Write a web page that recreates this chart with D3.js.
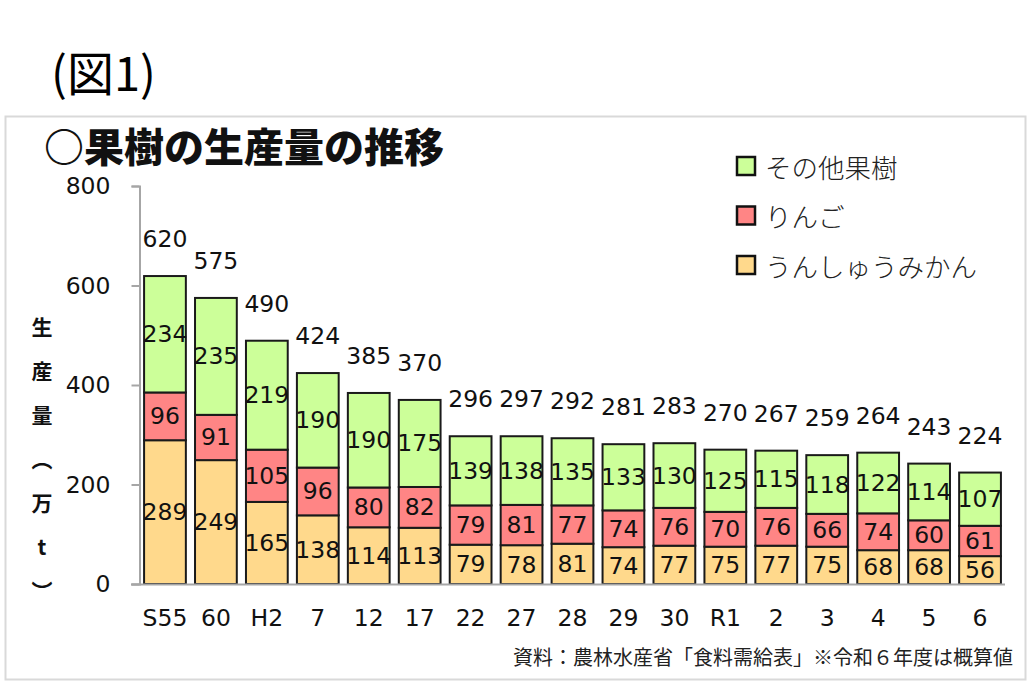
<!DOCTYPE html>
<html>
<head>
<meta charset="utf-8">
<script src="https://cdn.jsdelivr.net/npm/d3@7"></script>
<style>
  body { margin: 0; background: #fff; }
  svg { display: block; }
</style>
</head>
<body>
<div id="chart"></div>
<script>
const years = ["S55", "60", "H2", "7", "12", "17", "22", "27", "28", "29", "30", "R1", "2", "3", "4", "5", "6"];
const mikan = [289, 249, 165, 138, 114, 113, 79, 78, 81, 74, 77, 75, 77, 75, 68, 68, 56];
const apple = [96, 91, 105, 96, 80, 82, 79, 81, 77, 74, 76, 70, 76, 66, 74, 60, 61];
const other = [234, 235, 219, 190, 190, 175, 139, 138, 135, 133, 130, 125, 115, 118, 122, 114, 107];
const totals = [620, 575, 490, 424, 385, 370, 296, 297, 292, 281, 283, 270, 267, 259, 264, 243, 224];
const yTicks = [0, 200, 400, 600, 800];

const seriesNames = ["うんしゅうみかん", "りんご", "その他果樹"];
const colors = ["#FFD98C", "#FF8585", "#CCFF99"];

const W = 1032, H = 688;
const numFont = "'DejaVu Sans', Verdana, sans-serif";
const jpFont = "'Noto Sans CJK JP', sans-serif";
const numSize = "23.5px";

const svg = d3.select("#chart").append("svg")
  .attr("width", W)
  .attr("height", H);

// caption
svg.append("text")
  .attr("x", 51)
  .attr("y", 91)
  .style("font-family", jpFont)
  .style("font-size", "47px")
  .text("(図1)");

// frame
svg.append("rect")
  .attr("x", 5.5)
  .attr("y", 116.5)
  .attr("width", 1020)
  .attr("height", 563)
  .attr("fill", "#fff")
  .attr("stroke", "#d9d9d9")
  .attr("stroke-width", 2);

// title
svg.append("text")
  .attr("x", 44)
  .attr("y", 162)
  .style("font-family", jpFont)
  .style("font-weight", 900)
  .style("font-size", "40px")
  .attr("fill", "#111")
  .text("○果樹の生産量の推移");

const x = d3.scaleBand()
  .domain(years)
  .range([139.5, 1005.5])
  .paddingInner(0.18)
  .paddingOuter(0.09);

const y = d3.scaleLinear()
  .domain([0, 800])
  .range([584, 186]);

// stacked data
const rows = years.map((yr, i) => ({year: yr, mikan: mikan[i], apple: apple[i], other: other[i]}));
const stack = d3.stack().keys(["mikan", "apple", "other"]);
const layers = stack(rows);

// axes
const yAxis = svg.append("g")
  .attr("transform", "translate(139.5,0)")
  .call(d3.axisLeft(y).tickValues(yTicks).tickSize(8).tickPadding(21));
yAxis.select(".domain").attr("stroke", "#a6a6a6").attr("stroke-width", 2);
yAxis.selectAll(".tick line").attr("stroke", "#a6a6a6").attr("stroke-width", 2);
yAxis.selectAll(".tick text")
  .style("font-family", numFont)
  .style("font-size", numSize)
  .attr("fill", "#111");

const xAxis = svg.append("g")
  .attr("transform", "translate(0,584)")
  .call(d3.axisBottom(x).tickSize(0).tickPadding(25));
xAxis.select(".domain").remove();
xAxis.selectAll(".tick text")
  .style("font-family", numFont)
  .style("font-size", numSize)
  .attr("fill", "#111");

// bars
const layerG = svg.selectAll("g.layer")
  .data(layers)
  .join("g")
  .attr("class", "layer")
  .attr("fill", (d, i) => colors[i]);

layerG.selectAll("rect")
  .data(d => d)
  .join("rect")
  .attr("x", d => x(d.data.year))
  .attr("y", d => y(d[1]))
  .attr("width", x.bandwidth())
  .attr("height", d => y(d[0]) - y(d[1]))
  .attr("stroke", "#1a1a1a")
  .attr("stroke-width", 2);

layerG.selectAll("text")
  .data(d => d)
  .join("text")
  .attr("x", d => x(d.data.year) + x.bandwidth() / 2)
  .attr("y", d => (y(d[0]) + y(d[1])) / 2)
  .attr("text-anchor", "middle")
  .attr("dominant-baseline", "central")
  .style("font-family", numFont)
  .style("font-size", numSize)
  .attr("fill", "#111")
  .text(d => d[1] - d[0]);

// x axis line on top of bars
svg.append("line")
  .attr("x1", 131)
  .attr("x2", 1005)
  .attr("y1", 584.5)
  .attr("y2", 584.5)
  .attr("stroke", "#a6a6a6")
  .attr("stroke-width", 2);

// totals
svg.selectAll("text.total")
  .data(rows)
  .join("text")
  .attr("class", "total")
  .attr("x", d => x(d.year) + x.bandwidth() / 2)
  .attr("y", d => y(d.mikan + d.apple + d.other) - 29)
  .attr("text-anchor", "middle")
  .style("font-family", numFont)
  .style("font-size", numSize)
  .attr("fill", "#111")
  .text((d, i) => totals[i]);

// y axis title, vertical
const yTitle = ["生", "産", "量", "︵", "万", "t", "︶"];
svg.selectAll("text.ytitle")
  .data(yTitle)
  .join("text")
  .attr("class", "ytitle")
  .attr("x", 42)
  .attr("y", (d, i) => 335 + i * 44)
  .attr("text-anchor", "middle")
  .style("font-family", jpFont)
  .style("font-weight", 700)
  .style("font-size", "21px")
  .attr("fill", "#111")
  .text(d => d);

// legend
const legendOrder = [2, 1, 0];
const legend = svg.append("g").attr("transform", "translate(737,166)");
legendOrder.forEach((k, i) => {
  const row = legend.append("g").attr("transform", `translate(0,${i * 49.5})`);
  row.append("rect")
    .attr("x", 0)
    .attr("y", -9)
    .attr("width", 18)
    .attr("height", 18)
    .attr("fill", colors[k])
    .attr("stroke", "#111")
    .attr("stroke-width", 2.5);
  row.append("text")
    .attr("x", 28)
    .attr("y", 0)
    .attr("dominant-baseline", "central")
    .style("font-family", jpFont)
    .style("font-size", "26.5px")
    .style("font-weight", 300)
    .attr("fill", "#222")
    .text(seriesNames[k]);
});

// source note
svg.append("text")
  .attr("x", 1013)
  .attr("y", 665)
  .attr("text-anchor", "end")
  .style("font-family", jpFont)
  .style("font-size", "20px")
  .attr("fill", "#222")
  .text("資料：農林水産省「食料需給表」※令和６年度は概算値");
</script>
</body>
</html>
